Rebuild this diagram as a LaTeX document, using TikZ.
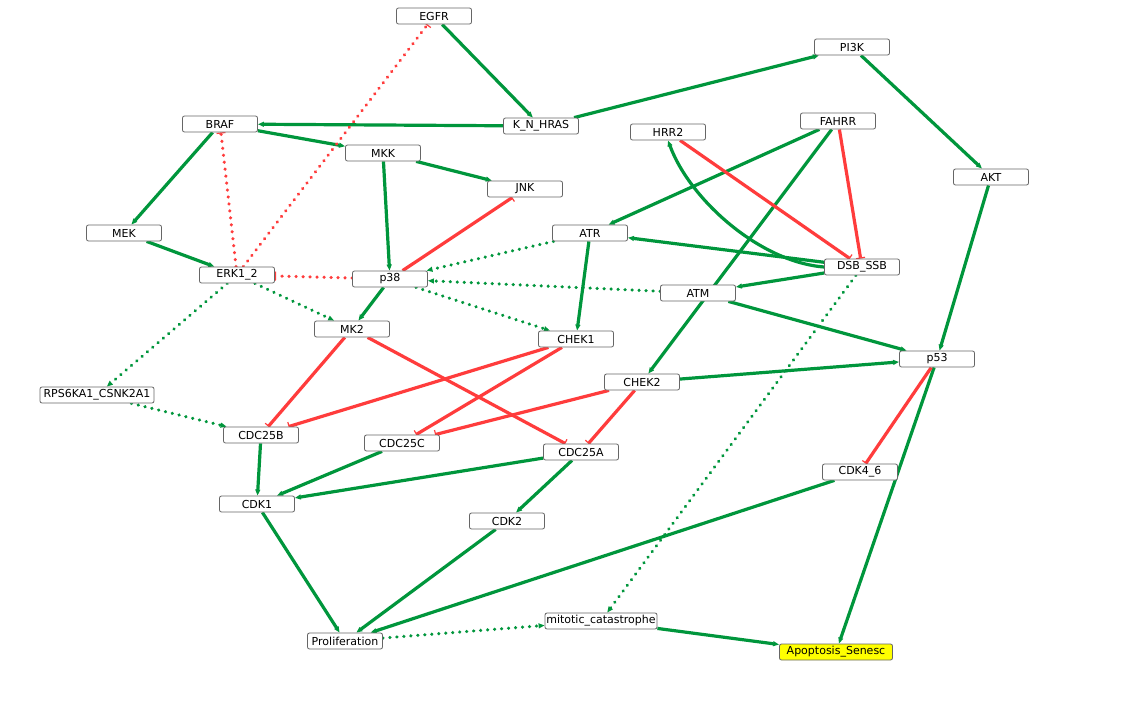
\documentclass[tikz,border=0pt]{standalone}
\usepackage{fontspec}
\newfontfamily\lab{DejaVu Sans}
\usetikzlibrary{arrows.meta,backgrounds}
\definecolor{grn}{RGB}{0,150,60}
\definecolor{rd}{RGB}{255,60,60}
\definecolor{ylw}{RGB}{255,255,0}
\tikzset{
  nd/.style={draw=black!60, fill=white, rounded corners=2pt, minimum width=75pt,
    minimum height=16pt, inner sep=0pt, line width=0.8pt,
    font=\lab\fontsize{11}{12}\selectfont},
  act/.style={draw=grn, line width=3.2pt, -{Triangle[length=6pt,width=4.8pt]}},
  inh/.style={draw=rd, line width=3.2pt, -{Bar[width=9pt,line width=1.2pt]}},
  dotl/.style={dash pattern=on 0.1pt off 6.9pt, line cap=round, line width=3.4pt},
}
\begin{document}
\begin{tikzpicture}[x=1pt,y=-1pt]
\useasboundingbox (0,0) rectangle (1146,715);
\node[nd] (EGFR) at (434,16) {EGFR};
\node[nd] (PI3K) at (852,47) {PI3K};
\node[nd] (BRAF) at (220,124) {BRAF};
\node[nd] (KNHRAS) at (541,126) {K\_N\_HRAS};
\node[nd] (HRR2) at (668,132) {HRR2};
\node[nd] (FAHRR) at (838,121) {FAHRR};
\node[nd] (MKK) at (383,153) {MKK};
\node[nd] (AKT) at (991,177) {AKT};
\node[nd] (JNK) at (525,189) {JNK};
\node[nd] (MEK) at (124,233) {MEK};
\node[nd] (ATR) at (590,233) {ATR};
\node[nd] (ERK) at (237,275) {ERK1\_2};
\node[nd] (p38) at (390,279) {p38};
\node[nd] (DSB) at (862,267) {DSB\_SSB};
\node[nd] (ATM) at (698,293) {ATM};
\node[nd] (MK2) at (352,329) {MK2};
\node[nd] (CHEK1) at (576,339) {CHEK1};
\node[nd] (p53) at (937,359) {p53};
\node[nd, minimum width=114pt] (RPS) at (97,395) {RPS6KA1\_CSNK2A1};
\node[nd] (CHEK2) at (642,382) {CHEK2};
\node[nd] (CDC25B) at (261,435) {CDC25B};
\node[nd] (CDC25C) at (402,443) {CDC25C};
\node[nd] (CDC25A) at (581,452) {CDC25A};
\node[nd] (CDK46) at (860,472) {CDK4\_6};
\node[nd] (CDK1) at (257,504) {CDK1};
\node[nd] (CDK2) at (507,521) {CDK2};
\node[nd, minimum width=112pt] (MIT) at (601,621) {mitotic\_catastrophe};
\node[nd] (PROL) at (345,641) {Proliferation};
\node[nd, minimum width=113pt, fill=ylw] (APO) at (836,652) {Apoptosis\_Senesc};
\begin{pgfonlayer}{background}
\fill[white] (0,0) rectangle (1146,715);
% activations
\draw[act] (EGFR) -- (KNHRAS);
\draw[act] (KNHRAS) -- (BRAF);
\draw[act] (KNHRAS) -- (PI3K);
\draw[act] (PI3K) -- (AKT);
\draw[act] (AKT) -- (p53);
\draw[act] (BRAF) -- (MKK);
\draw[act] (BRAF) -- (MEK);
\draw[act] (MEK) -- (ERK);
\draw[act] (MKK) -- (JNK);
\draw[act] (MKK) -- (p38);
\draw[act] (p38) -- (MK2);
\draw[act] (FAHRR) -- (ATR);
\draw[act] (FAHRR) -- (CHEK2);
\draw[act] (DSB) -- (ATR);
\draw[act] (DSB) -- (ATM);
\draw[act] (ATM) -- (p53);
\draw[act] (ATR) -- (CHEK1);
\draw[act] (CHEK2) -- (p53);
\draw[act] (p53) -- (APO);
\draw[act] (CDC25B) -- (CDK1);
\draw[act] (CDC25C) -- (CDK1);
\draw[act] (CDC25A) -- (CDK1);
\draw[act] (CDC25A) -- (CDK2);
\draw[act] (CDK1) -- (PROL);
\draw[act] (CDK2) -- (PROL);
\draw[act] (CDK46) -- (PROL);
\draw[act] (MIT) -- (APO);
\draw[act] (DSB.west) .. controls (760,262) and (690,200) .. (HRR2.south);
% dotted activations
\draw[act,dotl] (ERK) -- (MK2);
\draw[act,dotl] (ERK) -- (RPS);
\draw[act,dotl] (p38) -- (CHEK1);
\draw[act,dotl] (ATR) -- (p38);
\draw[act,dotl] (ATM) -- (p38);
\draw[act,dotl] (DSB) -- (MIT);
\draw[act,dotl] (RPS) -- (CDC25B);
\draw[act,dotl] (PROL) -- (MIT);
% inhibitions
\draw[inh] (p38) -- (JNK);
\draw[inh] (FAHRR) -- (DSB);
\draw[inh] (HRR2) -- (DSB);
\draw[inh] (CHEK2) -- (CDC25C);
\draw[inh] (CHEK2) -- (CDC25A);
\draw[inh] (CHEK1) -- (CDC25B);
\draw[inh] (CHEK1) -- (CDC25C);
\draw[inh] (MK2) -- (CDC25B);
\draw[inh] (MK2) -- (CDC25A);
\draw[inh] (p53) -- (CDK46);
% dotted inhibitions
\draw[inh,dotl] (ERK) -- (BRAF);
\draw[inh,dotl] (ERK) -- (EGFR);
\draw[inh,dotl] (p38) -- (ERK);
\end{pgfonlayer}
\end{tikzpicture}
\end{document}
